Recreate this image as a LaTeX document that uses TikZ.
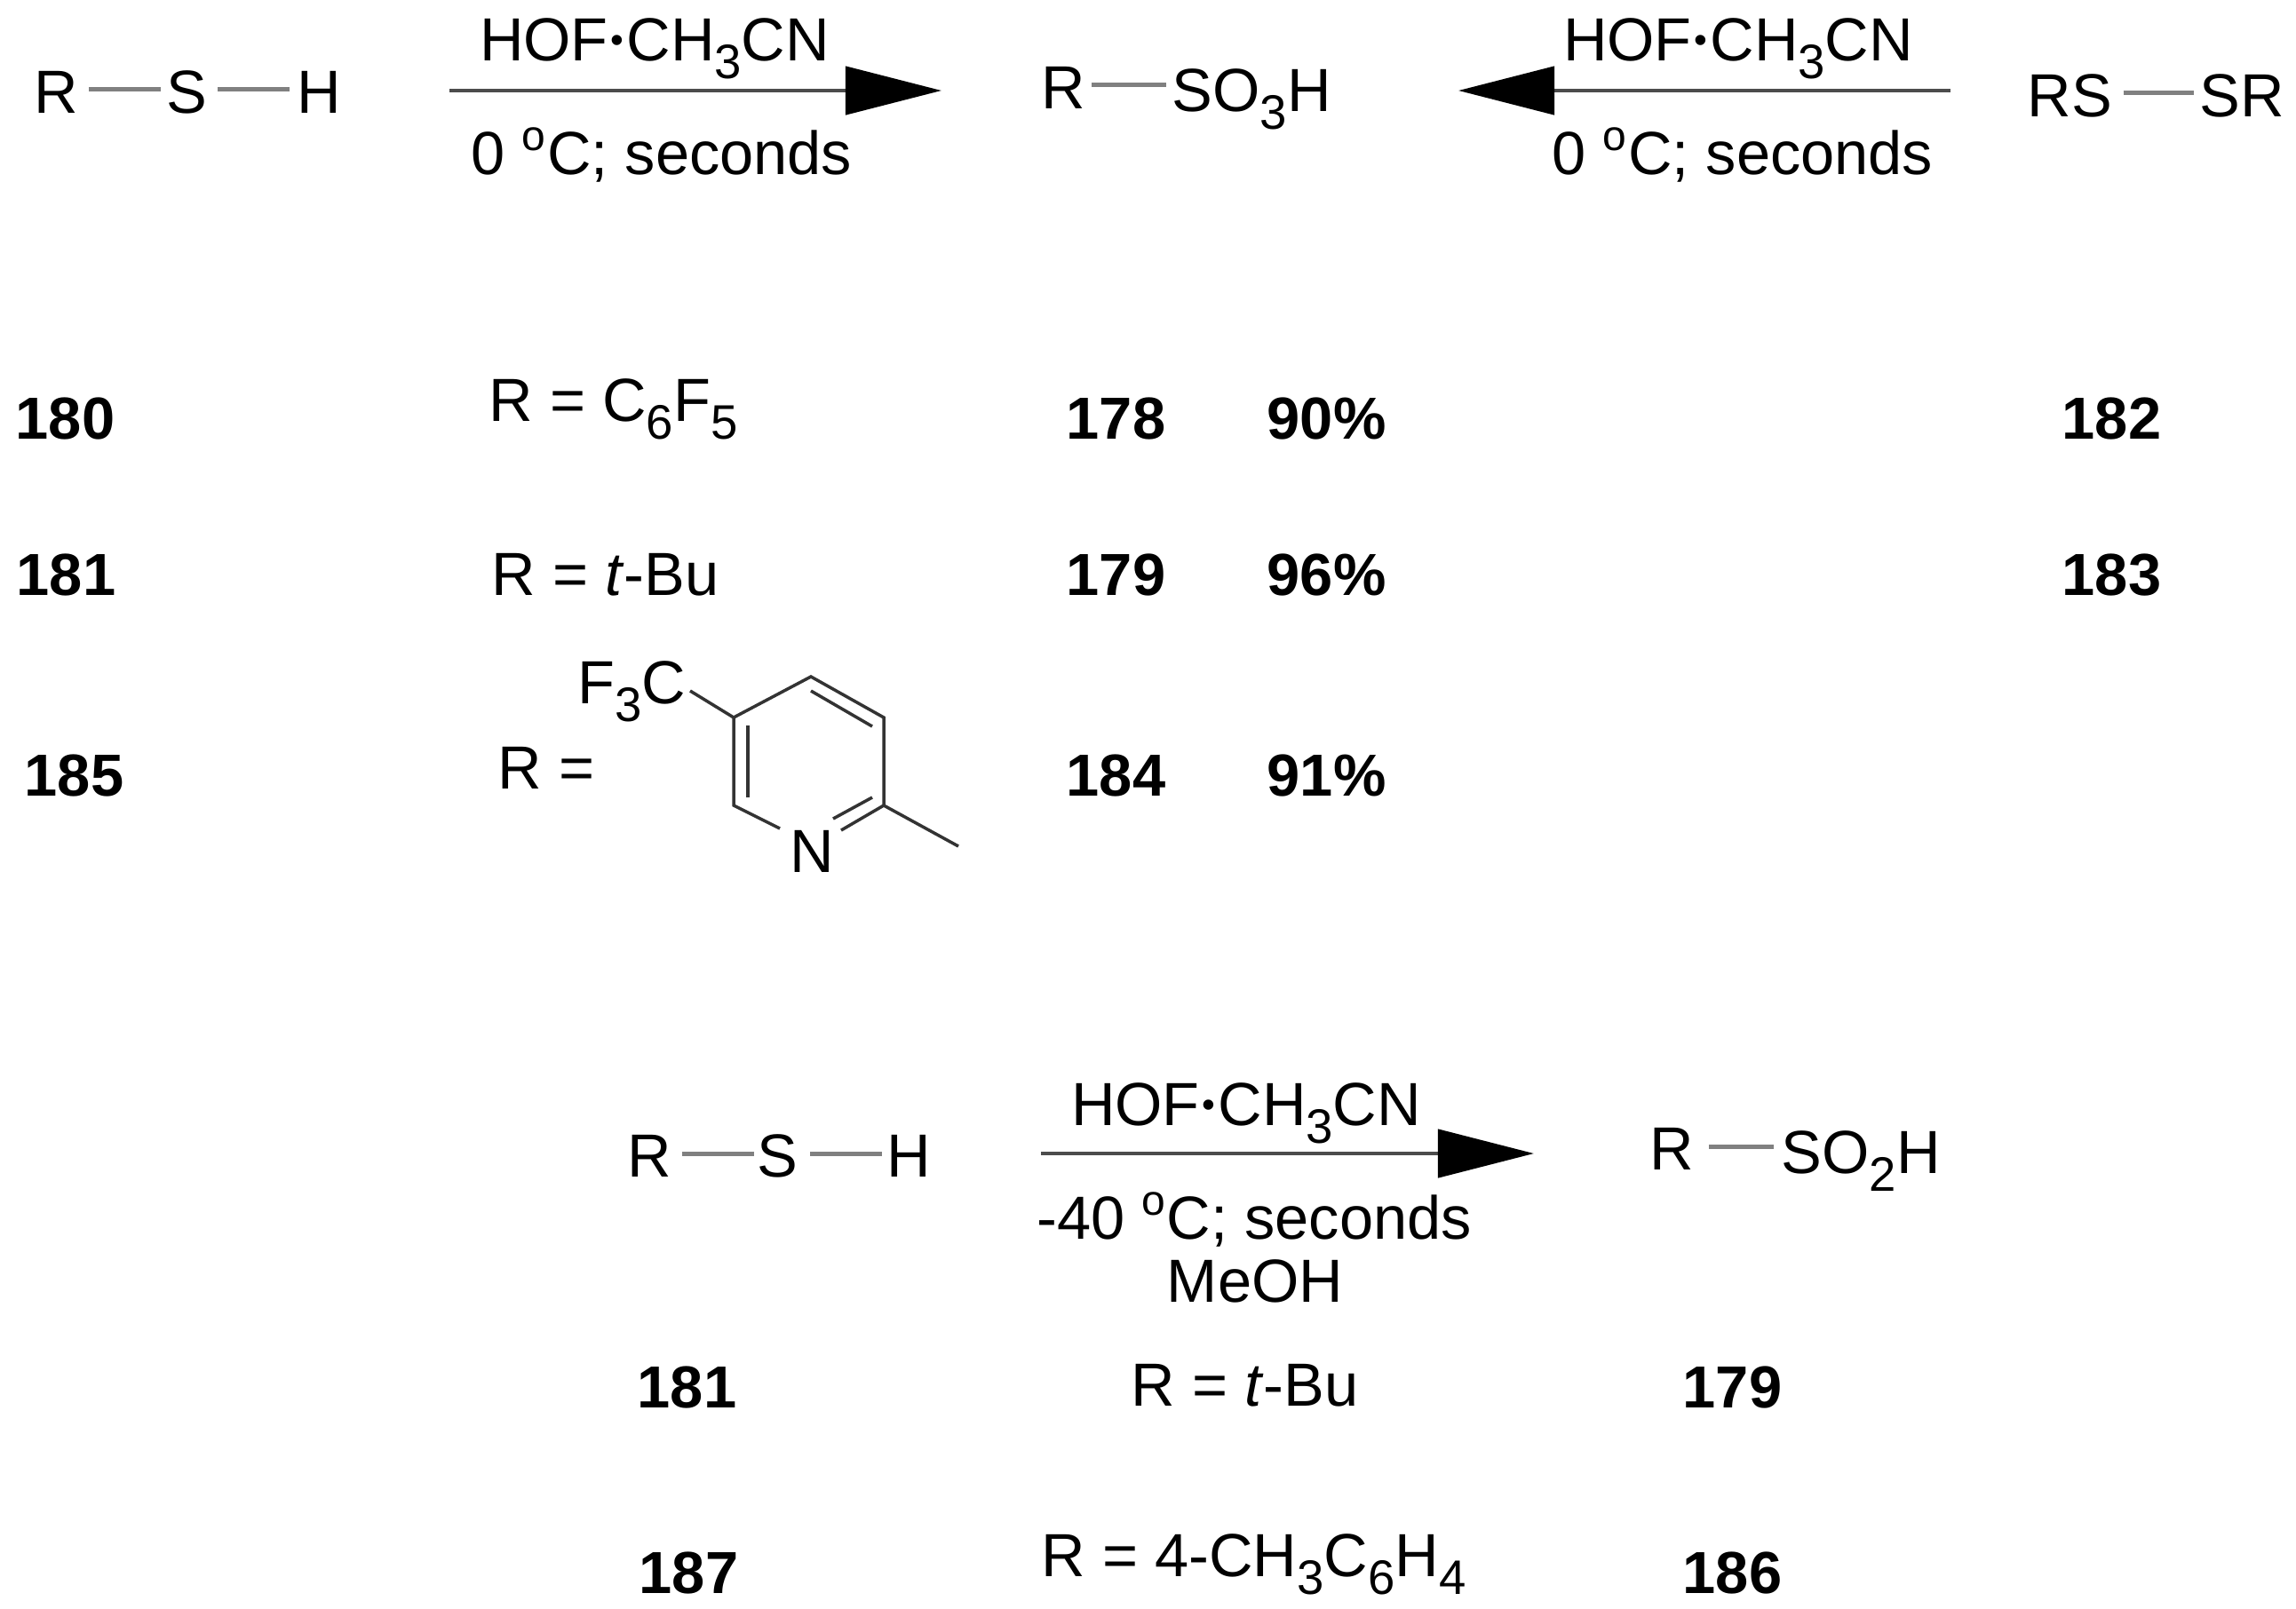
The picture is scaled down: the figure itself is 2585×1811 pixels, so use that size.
\documentclass[tikz,border=0pt]{standalone}
\usepackage{fontspec}
\setmainfont{Liberation Sans}
\usetikzlibrary{arrows.meta}
\newcommand{\chemsub}[1]{\raisebox{-0.3em}{\fontsize{15.5}{15.5}\selectfont #1}}
\newcommand{\chemdot}{\hspace{0.03cm}\raisebox{0.12em}{\fontsize{12}{12}\selectfont •}\hspace{0.03cm}}
\tikzset{
	atom/.style={anchor=base west, inner sep=0pt, text height=0.52cm, text depth=0pt, font=\fontsize{19.5}{24}\selectfont},
	txt/.style={anchor=base, inner sep=0pt, font=\fontsize{19.5}{24}\selectfont},
	cmpd/.style={anchor=base west, inner sep=0pt, font=\fontsize{19}{24}\selectfont\bfseries},
	bond/.style={line width=0.05cm, black!50},
	ring/.style={line width=0.035cm, black!80},
	rxn/.style={line width=0.045cm, black!70, -{Triangle[length=1.08cm, width=0.54cm, color=black]}}
}
\begin{document}
\begin{tikzpicture}[x=0.01cm, y=-0.01cm]
	\useasboundingbox (0,0) rectangle (2585,1811);
	% top left reaction
	\node[atom] (r1) at (38,127){R};
	\node[atom] (s1) at (187,127){S};
	\node[atom] (h1) at (334,127){H};
	\draw[bond] ([xshift=0.11cm]r1.east) -- ([xshift=-0.06cm]s1.west);
	\draw[bond] ([xshift=0.11cm]s1.east) -- ([xshift=-0.08cm]h1.west);
	\coordinate (a1s) at (506,102);
	\coordinate (a1e) at (1060,102);
	\draw[rxn] (a1s) -- (a1e);
	\node[txt] (hof1) at (737,68){HOF\chemdot CH\chemsub{3}CN};
	\node[txt] (cond1) at (745,196){0 \textsuperscript{o}C; seconds};
	% product
	\node[atom] (r2) at (1172,122){R};
	\node[atom] (so3) at (1319,125){SO\chemsub{3}H};
	\draw[bond] ([xshift=0.06cm]r2.east) -- ([xshift=-0.06cm]r2.east -| so3.west);
	% top right reaction
	\coordinate (a2s) at (2196,102);
	\coordinate (a2e) at (1642,102);
	\draw[rxn] (a2s) -- (a2e);
	\node[txt] (hof2) at (1957,68){HOF\chemdot CH\chemsub{3}CN};
	\node[txt] (cond2) at (1962,196){0 \textsuperscript{o}C; seconds};
	\node[atom] (rs) at (2282,131){RS};
	\node[atom] (sr) at (2476,131){SR};
	\draw[bond] ([xshift=0.12cm]rs.east) -- ([xshift=-0.06cm]sr.west);
	% table
	\node[cmpd] (c180) at (17,494){180};
	\node[atom] (rc6f5) at (550,474){R = C\chemsub{6}F\chemsub{5}};
	\node[cmpd] (c178) at (1200,494){178};
	\node[cmpd] (y90) at (1426,494){90\%};
	\node[cmpd] (c182) at (2321,494){182};
	\node[cmpd] (c181) at (18,670){181};
	\node[atom] (rtbu) at (553,670){R = \textit{t}-Bu};
	\node[cmpd] (c179) at (1200,670){179};
	\node[cmpd] (y96) at (1426,670){96\%};
	\node[cmpd] (c183) at (2321,670){183};
	\node[cmpd] (c185) at (27,896){185};
	\node[atom] (rpy) at (560,888){R =};
	\node[cmpd] (c184) at (1200,896){184};
	\node[cmpd] (y91) at (1426,896){91\%};
	% pyridine
	\node[atom] (cf3) at (650,792){F\chemsub{3}C};
	\node[atom] (n1) at (889,982){N};
	\coordinate (c5) at (826,808);
	\coordinate (c4) at (913,762);
	\coordinate (c3) at (995,808);
	\coordinate (c2) at (995,907);
	\coordinate (c6) at (826,907);
	\coordinate (me) at (1079,953);
	\coordinate (cfb) at (777,778);
	\draw[ring] (cfb) -- (c5) -- (c4) -- (c3) -- (c2) -- (me);
	\draw[ring] (c5) -- (c6) -- (878,933);
	\draw[ring] (c2) -- (947,935);
	\draw[ring] (982,898) -- (938,922);
	\draw[ring] (913,778) -- (982,818);
	\draw[ring] (842,817) -- (842,898);
	% bottom reaction
	\node[atom] (r3) at (706,1325){R};
	\node[atom] (s3) at (852,1325){S};
	\node[atom] (h3) at (998,1325){H};
	\draw[bond] ([xshift=0.11cm]r3.east) -- ([xshift=-0.03cm]s3.west);
	\draw[bond] ([xshift=0.13cm]s3.east) -- ([xshift=-0.05cm]h3.west);
	\coordinate (a3s) at (1172,1299);
	\coordinate (a3e) at (1727,1299);
	\draw[rxn] (a3s) -- (a3e);
	\node[txt] (hof3) at (1403,1267){HOF\chemdot CH\chemsub{3}CN};
	\node[txt] (cond3) at (1412,1395){-40 \textsuperscript{o}C; seconds};
	\node[txt] (meoh) at (1413,1466){MeOH};
	\node[atom] (r4) at (1857,1317){R};
	\node[atom] (so2) at (2005,1321){SO\chemsub{2}H};
	\draw[bond] ([xshift=0.16cm]r4.east) -- ([xshift=-0.08cm]r4.east -| so2.west);
	% bottom table
	\node[cmpd] (d181) at (717,1585){181};
	\node[atom] (rtbu2) at (1273,1583){R = \textit{t}-Bu};
	\node[cmpd] (d179) at (1894,1585){179};
	\node[cmpd] (d187) at (719,1794){187};
	\node[atom] (rtol) at (1172,1775){R = 4-CH\chemsub{3}C\chemsub{6}H\chemsub{4}};
	\node[cmpd] (d186) at (1894,1794){186};
\end{tikzpicture}
\end{document}
